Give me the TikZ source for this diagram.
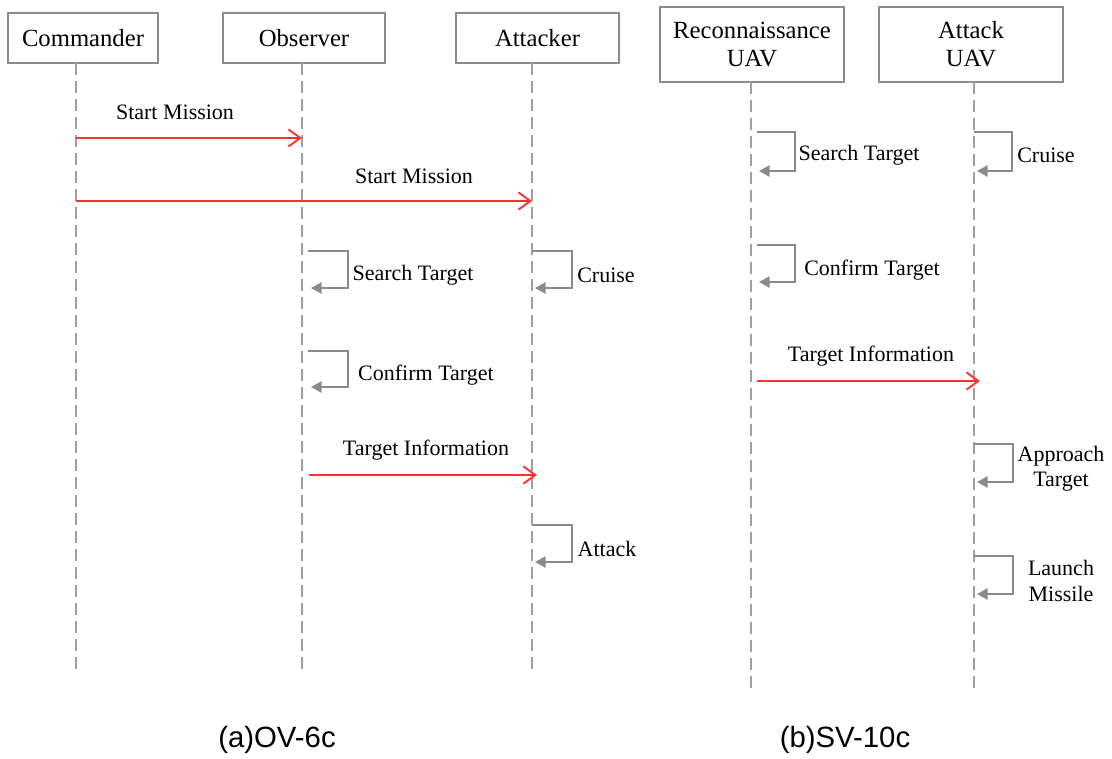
\documentclass[tikz,border=0pt]{standalone}
\usepackage{fontspec}
\setmainfont{Liberation Serif}
\newfontfamily\capfont{Liberation Sans}
\usetikzlibrary{arrows.meta}
\definecolor{boxgray}{HTML}{8C8C8C}
\definecolor{lifegray}{HTML}{A0A0A0}
\definecolor{loopgray}{HTML}{8A8A8A}
\definecolor{msgred}{HTML}{FF3030}

\begin{document}
\begin{tikzpicture}[x=0.75pt,y=-0.75pt,
  actor/.style={draw=boxgray,line width=1.3pt,fill=white,inner sep=0pt,
    font=\fontsize{18.5}{21}\selectfont,align=center},
  life/.style={draw=lifegray,line width=1.4pt,dash pattern=on 9pt off 4.5pt},
  msg/.style={draw=msgred,line width=1.4pt,
    -{Straight Barb[length=9pt,width=13pt,line width=1.4pt]}},
  selfmsg/.style={draw=loopgray,line width=1.3pt,-{Triangle[length=8pt,width=8.5pt]}},
  lbl/.style={font=\fontsize{16.5}{19}\selectfont,inner sep=0pt,align=center},
  figcaption/.style={font=\capfont\fontsize{22}{26}\selectfont,inner sep=0pt}]

\useasboundingbox (0,0) rectangle (1112,758);

% ---------- (a) OV-6c ----------
\node[actor,minimum width=112.5pt,minimum height=37.5pt] (cmd) at (83,38) {Commander};
\node[actor,minimum width=121.5pt,minimum height=37.5pt] (obs) at (304,38) {Observer};
\node[actor,minimum width=122pt,minimum height=37.5pt] (att) at (537.5,38) {Attacker};

\coordinate (cmdT) at (76,63);   \coordinate (cmdB) at (76,674);
\coordinate (obsT) at (302,63);  \coordinate (obsB) at (302,674);
\coordinate (attT) at (532,63);  \coordinate (attB) at (532,674);
\draw[life] (cmdT) -- (cmdB);
\draw[life] (obsT) -- (obsB);
\draw[life] (attT) -- (attB);

% messages
\coordinate (m1a) at (76,138);  \coordinate (m1b) at (302,138);
\coordinate (m2a) at (76,201);  \coordinate (m2b) at (532,201);
\coordinate (m3a) at (309,475); \coordinate (m3b) at (537,475);
\draw[msg] (m1a) -- (m1b);
\draw[msg] (m2a) -- (m2b);
\draw[msg] (m3a) -- (m3b);
\node[lbl] (l1) at (175,112) {Start Mission};
\node[lbl] (l2) at (414,176) {Start Mission};
\node[lbl] (l3) at (426,450) {Target Information};

% self messages
\coordinate (s1a) at (308,251); \coordinate (s1b) at (311,288);
\coordinate (s2a) at (532,251); \coordinate (s2b) at (535,288);
\coordinate (s3a) at (308,351); \coordinate (s3b) at (311,387);
\coordinate (s4a) at (532,525); \coordinate (s4b) at (535,562);
\draw[selfmsg] (s1a) -- ++(40,0) |- (s1b);
\draw[selfmsg] (s2a) -- ++(40,0) |- (s2b);
\draw[selfmsg] (s3a) -- ++(40,0) |- (s3b);
\draw[selfmsg] (s4a) -- ++(40,0) |- (s4b);
\node[lbl] (t1) at (413,275) {Search Target};
\node[lbl] (t2) at (606,275) {Cruise};
\node[lbl] (t3) at (426,375) {Confirm Target};
\node[lbl] (t4) at (607,549) {Attack};

\node[figcaption] (capa) at (277,740) {(a)OV-6c};

% ---------- (b) SV-10c ----------
\node[actor,minimum width=138pt,minimum height=56.25pt] (rec) at (752,44.5)
  {Reconnaissance\\UAV};
\node[actor,minimum width=138pt,minimum height=56.25pt] (auv) at (971,44.5)
  {Attack\\UAV};

\coordinate (recT) at (751,82);  \coordinate (recB) at (751,693);
\coordinate (auvT) at (974,82);  \coordinate (auvB) at (974,693);
\draw[life] (recT) -- (recB);
\draw[life] (auvT) -- (auvB);

\coordinate (m4a) at (757,381); \coordinate (m4b) at (980,381);
\draw[msg] (m4a) -- (m4b);
\node[lbl] (l4) at (871,356) {Target Information};

\coordinate (r1a) at (757,132); \coordinate (r1b) at (759,171);
\coordinate (r2a) at (757,245); \coordinate (r2b) at (759,282);
\coordinate (a1a) at (974,132); \coordinate (a1b) at (977,171);
\coordinate (a2a) at (974,444); \coordinate (a2b) at (977,482);
\coordinate (a3a) at (974,556); \coordinate (a3b) at (977,594);
\draw[selfmsg] (r1a) -- ++(38,0) |- (r1b);
\draw[selfmsg] (r2a) -- ++(38,0) |- (r2b);
\draw[selfmsg] (a1a) -- ++(38,0) |- (a1b);
\draw[selfmsg] (a2a) -- ++(39,0) |- (a2b);
\draw[selfmsg] (a3a) -- ++(39,0) |- (a3b);
\node[lbl] (u1) at (859,155) {Search Target};
\node[lbl] (u2) at (872,270) {Confirm Target};
\node[lbl] (u3) at (1046,155) {Cruise};
\node[lbl] (u4) at (1061,469) {Approach\\Target};
\node[lbl] (u5) at (1061,581) {Launch\\Missile};

\node[figcaption] (capb) at (845,740) {(b)SV-10c};
\end{tikzpicture}
\end{document}
